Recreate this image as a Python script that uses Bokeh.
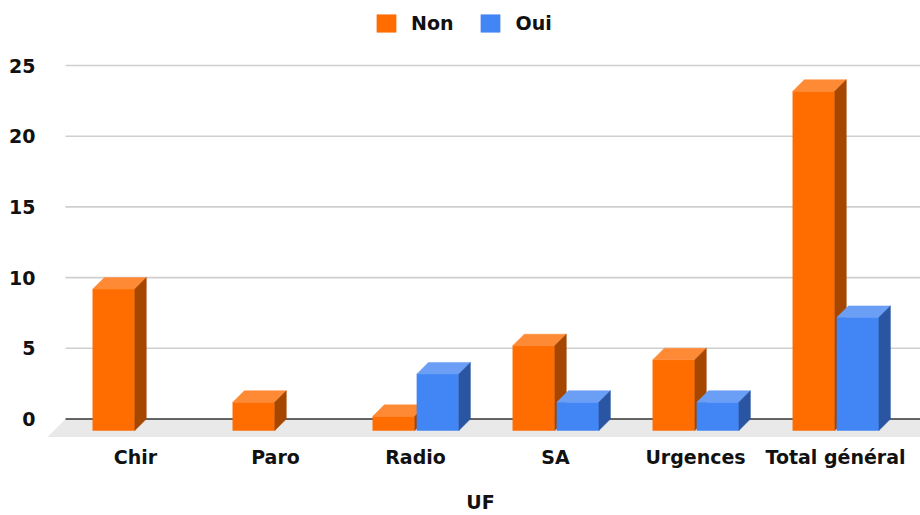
from bokeh.plotting import figure
from bokeh.models import Range1d, FixedTicker, Legend, LegendItem
from bokeh.embed import file_html
from bokeh.resources import INLINE

# ---- data ----
categories = ["Chir", "Paro", "Radio", "SA", "Urgences", "Total général"]
non_values = [10, 2, 1, 6, 5, 24]
oui_values = [0, 0, 4, 2, 2, 8]
series_names = ["Non", "Oui"]
y_ticks = [0, 5, 10, 15, 20, 25]
x_title = "UF"

# ---- style constants ----
FONT = "DejaVu Sans"
FSIZE = "19px"
TXT = "#111111"
BAR_W = 0.30          # bar width in category units
DEPTH_X = 0.082       # 3D depth, x
DEPTH_Y = 0.81        # 3D depth, y
FLOOR_DX = 0.1286
FLOOR_DY = 1.27
series_offsets = [-0.305, 0.01]
front_colors = ["#ff6d01", "#4285f4"]
top_colors = ["#ff8a35", "#6b9ff6"]
side_colors = ["#a54700", "#2a55a2"]

X0, X1 = -0.6786, 5.607
Y0, Y1 = -1.874, 29.6

p = figure(width=920, height=515, frame_width=880, frame_height=445,
           output_backend="svg", toolbar_location=None,
           x_range=Range1d(X0, X1), y_range=Range1d(Y0, Y1),
           min_border_left=40, min_border_right=0, min_border_top=0,
           min_border_bottom=70)
p.outline_line_color = None
p.xgrid.visible = False
p.ygrid.visible = False
p.background_fill_color = "white"
p.border_fill_color = "white"

# floor
p.patch(x=[-0.5, X1 + 1, X1 + 1, -0.5 - FLOOR_DX],
        y=[0, 0, -FLOOR_DY, -FLOOR_DY],
        fill_color="#e9e9e9", line_color=None)

# grid lines (manual so they start at the plot area's left edge)
grid_ticks = [t for t in y_ticks if t != 0]
p.segment(x0=[-0.5] * len(grid_ticks), x1=[X1 + 1] * len(grid_ticks),
          y0=grid_ticks, y1=grid_ticks, line_color="#cfcfcf", line_width=1.6)
p.segment(x0=[-0.5], x1=[X1 + 1], y0=[0], y1=[0], line_color="#333333", line_width=1.5)

# bars
front_renderers = []
for si, vals in enumerate([non_values, oui_values]):
    left, right, top, bottom = [], [], [], []
    top_xs, top_ys, side_xs, side_ys = [], [], [], []
    for i, v in enumerate(vals):
        if v <= 0:
            continue
        x0 = i + series_offsets[si]
        x1 = x0 + BAR_W
        left.append(x0); right.append(x1)
        bottom.append(-DEPTH_Y); top.append(v - DEPTH_Y)
        top_xs.append([x0, x1, x1 + DEPTH_X, x0 + DEPTH_X])
        top_ys.append([v - DEPTH_Y, v - DEPTH_Y, v, v])
        side_xs.append([x1, x1 + DEPTH_X, x1 + DEPTH_X, x1])
        side_ys.append([-DEPTH_Y, 0, v, v - DEPTH_Y])
    r = p.quad(left=left, right=right, top=top, bottom=bottom,
               fill_color=front_colors[si], line_color=front_colors[si], line_width=0.5)
    p.patches(xs=top_xs, ys=top_ys, fill_color=top_colors[si],
              line_color=top_colors[si], line_width=0.5)
    p.patches(xs=side_xs, ys=side_ys, fill_color=side_colors[si],
              line_color=side_colors[si], line_width=0.5)
    front_renderers.append(r)

# axes
for ax in (p.yaxis[0], p.xaxis[0]):
    ax.axis_line_color = None
    ax.major_tick_line_color = None
    ax.minor_tick_line_color = None
    ax.major_tick_out = 0
    ax.major_tick_in = 0
    ax.minor_tick_out = 0
    ax.minor_tick_in = 0
    ax.major_label_text_font = FONT
    ax.major_label_text_font_style = "bold"
    ax.major_label_text_font_size = FSIZE
    ax.major_label_text_color = TXT

yax = p.yaxis[0]
yax.ticker = FixedTicker(ticks=y_ticks)
yax.major_label_standoff = 5

xax = p.xaxis[0]
xax.ticker = FixedTicker(ticks=list(range(len(categories))))
xax.major_label_overrides = {i: c for i, c in enumerate(categories)}
xax.major_label_standoff = 0
xax.axis_label = x_title
xax.axis_label_standoff = 20
xax.axis_label_text_font = FONT
xax.axis_label_text_font_style = "bold"
xax.axis_label_text_font_size = FSIZE
xax.axis_label_text_color = TXT

legend = Legend(items=[LegendItem(label=n, renderers=[r]) for n, r in zip(series_names, front_renderers)],
                orientation="horizontal", location=(334, 411),
                border_line_color=None, background_fill_alpha=0,
                padding=0, margin=0, spacing=25,
                glyph_width=24, glyph_height=22, label_standoff=13, label_height=22,
                label_text_font=FONT, label_text_font_style="bold",
                label_text_font_size=FSIZE, label_text_color=TXT)
p.add_layout(legend)

open("out.html", "w").write(file_html(p, INLINE))
